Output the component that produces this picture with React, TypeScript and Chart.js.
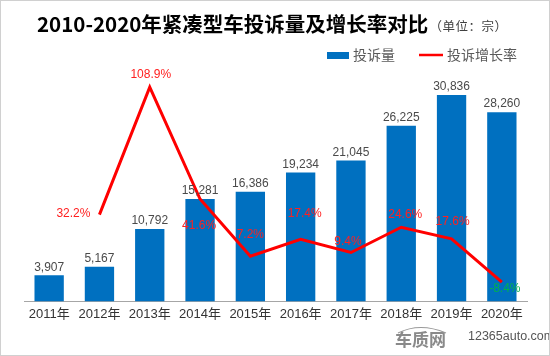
import React, { useEffect, useRef } from "react";
import { Chart, registerables } from "chart.js";

Chart.register(...registerables);

const categories = ["2011年", "2012年", "2013年", "2014年", "2015年", "2016年", "2017年", "2018年", "2019年", "2020年"];
const complaintCounts = [3907, 5167, 10792, 15281, 16386, 19234, 21045, 26225, 30836, 28260];
const growthRates: (number | null)[] = [null, 32.2, 108.9, 41.6, 7.2, 17.4, 9.4, 24.6, 17.6, -8.4];

const titleText = "2010-2020年紧凑型车投诉量及增长率对比";
const unitText = "（单位：宗）";
const barSeriesName = "投诉量";
const lineSeriesName = "投诉增长率";

// label placement relative to each line point (dx, dy) and alignment
const rateLabelDx = [0, -9, 1, -1, 0, 4, -3, 4, 1, 3];
const rateLabelDy = [0, -1, -12, 27, -21, -26, -11, -13, -17, 7];
const rateLabelAlign: CanvasTextAlign[] = ["center", "right", "center", "center", "center", "center", "center", "center", "center", "center"];

const BAR_COLOR = "#0070C0";
const LINE_COLOR = "#FF0000";
const CJK = '"Noto Sans CJK SC", "Liberation Sans", sans-serif';
const LATIN = '"Liberation Sans", "Noto Sans CJK SC", sans-serif';

const decorPlugin = {
  id: "decor",
  beforeDraw(chart: any) {
    const ctx = chart.ctx;
    ctx.save();
    ctx.fillStyle = "#ffffff";
    ctx.fillRect(0, 0, chart.width, chart.height);
    ctx.restore();
  },
  afterDatasetsDraw(chart: any) {
    const ctx = chart.ctx;
    ctx.save();
    // bar value labels
    const barMeta = chart.getDatasetMeta(1);
    ctx.font = `12px ${LATIN}`;
    ctx.fillStyle = "#4a4a4a";
    ctx.textAlign = "center";
    ctx.textBaseline = "middle";
    barMeta.data.forEach((el: any, i: number) => {
      const v = complaintCounts[i];
      ctx.fillText(v.toLocaleString("en-US"), el.x, el.y - 8);
    });
    // growth rate labels
    const lineMeta = chart.getDatasetMeta(0);
    lineMeta.data.forEach((el: any, i: number) => {
      const v = growthRates[i];
      if (v === null || v === undefined) return;
      ctx.fillStyle = v < 0 ? "#00B050" : "#FF2020";
      ctx.textAlign = rateLabelAlign[i];
      ctx.fillText(v.toFixed(1) + "%", el.x + rateLabelDx[i], el.y + rateLabelDy[i]);
    });
    ctx.restore();
  },
  afterDraw(chart: any) {
    const ctx = chart.ctx;
    ctx.save();
    // title
    ctx.textBaseline = "middle";
    ctx.textAlign = "left";
    ctx.font = `bold 20.5px ${CJK}`;
    ctx.fillStyle = "#000000";
    const titleStart = 37;
    ctx.fillText(titleText, titleStart, 24);
    const w1 = ctx.measureText(titleText).width;
    ctx.font = `12.5px ${CJK}`;
    ctx.fillStyle = "#404040";
    ctx.textAlign = "center";
    const unitChars = Array.from(unitText);
    const unitStart = titleStart + w1 + 1;
    unitChars.forEach((ch, i) => {
      ctx.fillText(ch, unitStart + 13 * i + 6.5, 26);
    });
    ctx.textAlign = "left";

    // legend
    ctx.fillStyle = BAR_COLOR;
    ctx.fillRect(327, 52, 22, 7);
    ctx.font = `14px ${CJK}`;
    ctx.fillStyle = "#595959";
    ctx.fillText(barSeriesName, 353, 55);
    ctx.strokeStyle = LINE_COLOR;
    ctx.lineWidth = 2.5;
    ctx.beginPath();
    ctx.moveTo(419, 55);
    ctx.lineTo(443, 55);
    ctx.stroke();
    ctx.fillStyle = "#595959";
    ctx.fillText(lineSeriesName, 447, 55);

    // watermark
    ctx.fillStyle = "#8a8a8a";
    ctx.font = `bold 17px ${CJK}`;
    ctx.fillText("车质网", 395, 340);
    ctx.strokeStyle = "#9a9a9a";
    ctx.lineWidth = 1.2;
    ctx.beginPath();
    ctx.moveTo(398, 333);
    ctx.quadraticCurveTo(420, 322, 446, 333);
    ctx.stroke();
    ctx.fillStyle = "#555555";
    ctx.font = `12.5px ${LATIN}`;
    ctx.fillText("12365auto.com", 468, 337);

    // frame
    ctx.strokeStyle = "#d0d0d0";
    ctx.lineWidth = 1;
    ctx.strokeRect(0.5, 0.5, chart.width - 1, chart.height - 1);
    ctx.restore();
  },
};

export default function App() {
  const canvasRef = useRef<HTMLCanvasElement | null>(null);

  useEffect(() => {
    if (!canvasRef.current) return;
    const chart = new Chart(canvasRef.current, {
      type: "bar",
      data: {
        labels: categories,
        datasets: [
          {
            type: "line",
            label: lineSeriesName,
            data: growthRates as any,
            yAxisID: "y2",
            borderColor: LINE_COLOR,
            backgroundColor: LINE_COLOR,
            borderWidth: 3,
            pointRadius: 0,
            pointHoverRadius: 0,
            tension: 0,
            order: 0,
          } as any,
          {
            type: "bar",
            label: barSeriesName,
            data: complaintCounts,
            yAxisID: "y",
            backgroundColor: BAR_COLOR,
            borderWidth: 0,
            barPercentage: 0.583,
            categoryPercentage: 1,
            order: 1,
          },
        ],
      },
      options: {
        responsive: false,
        animation: false,
        events: [],
        layout: { padding: { left: 24, right: 23, top: 67, bottom: 29 } },
        plugins: {
          legend: { display: false },
          title: { display: false },
          tooltip: { enabled: false },
        },
        scales: {
          x: {
            type: "category",
            offset: true,
            grid: { display: false, drawTicks: false },
            border: { display: true, color: "#A6A6A6", width: 1 },
            ticks: {
              color: "#333333",
              font: { family: LATIN, size: 13 },
              padding: 5,
              maxRotation: 0,
              autoSkip: false,
            },
          },
          y: { display: false, min: 0, max: 35000 },
          y2: { display: false, min: -20, max: 121, position: "right" },
        },
      },
      plugins: [decorPlugin],
    });
    return () => chart.destroy();
  }, []);

  return (
    <div style={{ position: "absolute", left: 0, top: 0, width: 550, height: 356 }}>
      <canvas ref={canvasRef} width={550} height={356} />
    </div>
  );
}
